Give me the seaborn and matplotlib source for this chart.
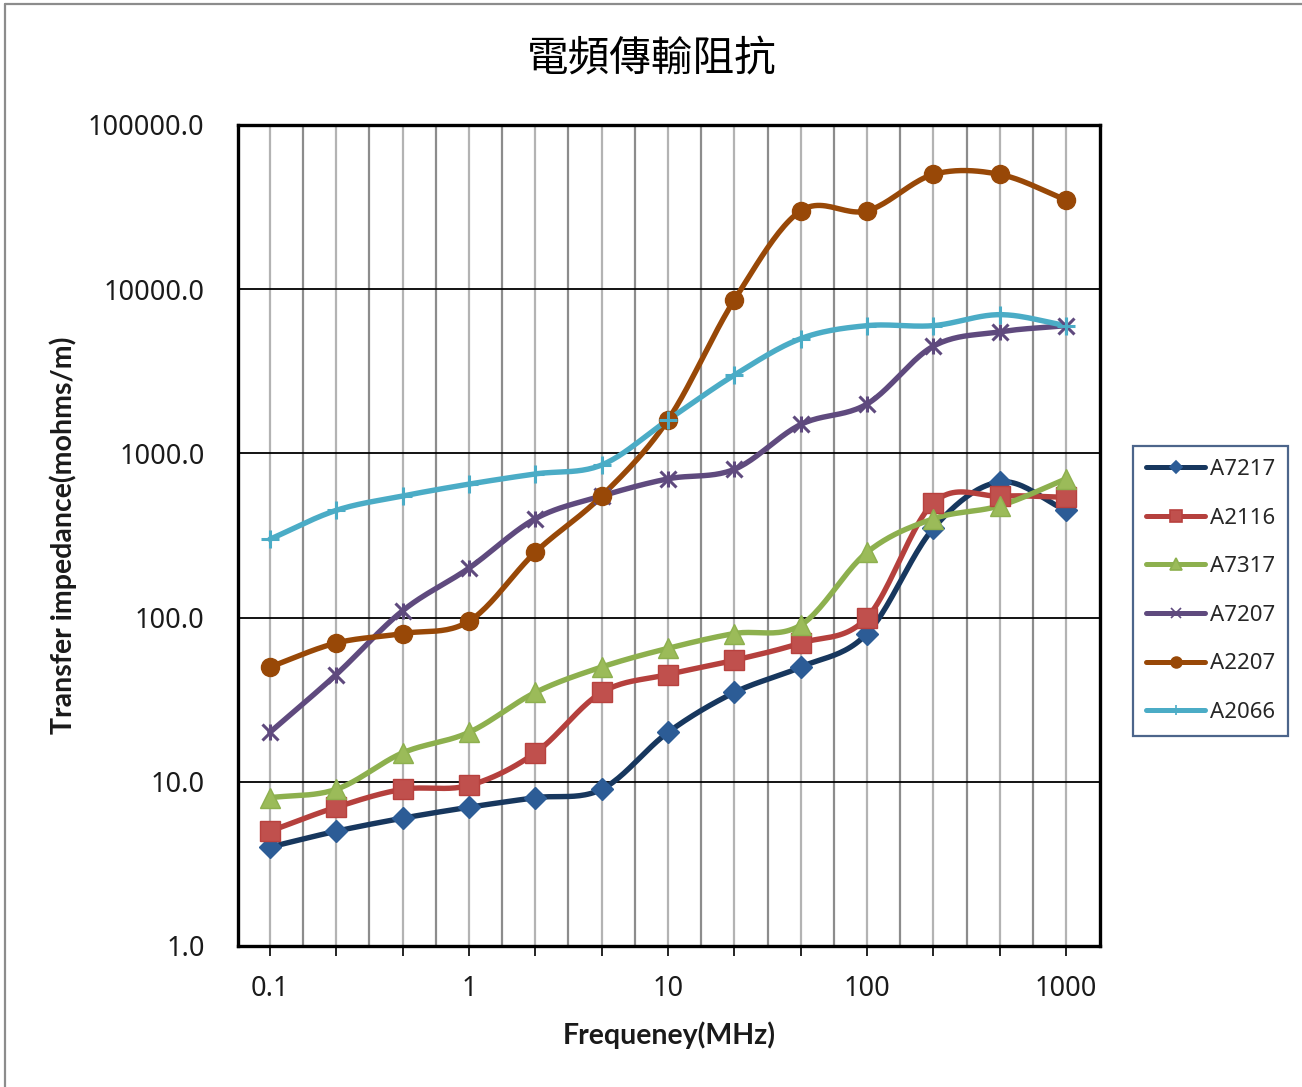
import numpy as np
import pandas as pd
import matplotlib
matplotlib.use("Agg")
import matplotlib.pyplot as plt
from matplotlib.lines import Line2D
import seaborn as sns

# Frequencies (MHz) measured, one category per point
freqs = ["0.1", "0.2", "0.5", "1", "2", "5", "10", "20", "50", "100", "200", "500", "1000"]
tick_labels = ["0.1", "", "", "1", "", "", "10", "", "", "100", "", "", "1000"]

# Transfer impedance (mohms/m) for each cable
a7217 = [4, 5, 6, 7, 8, 9, 20, 35, 50, 80, 350, 670, 450]
a2116 = [5, 7, 9, 9.5, 15, 35, 45, 55, 70, 100, 500, 550, 540]
a7317 = [8, 9, 15, 20, 35, 50, 65, 80, 90, 250, 400, 480, 700]
a7207 = [20, 45, 110, 200, 400, 550, 700, 800, 1500, 2000, 4500, 5500, 6000]
a2207 = [50, 70, 80, 95, 250, 550, 1600, 8600, 30000, 30000, 50000, 50000, 35000]
a2066 = [300, 450, 550, 650, 750, 850, 1600, 3000, 5000, 6000, 6000, 7000, 6000]

series_names = ["A7217", "A2116", "A7317", "A7207", "A2207", "A2066"]
series_values = [a7217, a2116, a7317, a7207, a2207, a2066]

y_ticks = [1, 10, 100, 1000, 10000, 100000]
y_tick_labels = ["1.0", "10.0", "100.0", "1000.0", "10000.0", "100000.0"]

# Line colour, marker face, marker edge, marker, marker size
styles = {
    "A7217": dict(line="#17375E", face="#2C5C96", edge="#2C5C96", marker="D", ms=11),
    "A2116": dict(line="#B5403D", face="#C0504D", edge="#B8413E", marker="s", ms=14),
    "A7317": dict(line="#8DB04E", face="#9BBB59", edge="#8DB04E", marker="^", ms=14),
    "A7207": dict(line="#5F4A7E", face="#5F4A7E", edge="#5F4A7E", marker="x", ms=11),
    "A2207": dict(line="#984807", face="#984807", edge="#984807", marker="o", ms=13),
    "A2066": dict(line="#4BACC6", face="#4BACC6", edge="#4BACC6", marker="+", ms=13),
}


def smooth_path(xs, ys, n=24):
    """Catmull-Rom path through the points (xs, ys)."""
    pts = np.column_stack([xs, ys]).astype(float)
    padded = np.vstack([2 * pts[0] - pts[1], pts, 2 * pts[-1] - pts[-2]])
    t = np.linspace(0, 1, n, endpoint=False)[:, None]
    segs = []
    for i in range(1, len(padded) - 2):
        p0, p1, p2, p3 = padded[i - 1:i + 3]
        segs.append(0.5 * (2 * p1 + (-p0 + p2) * t
                           + (2 * p0 - 5 * p1 + 4 * p2 - p3) * t ** 2
                           + (-p0 + 3 * p1 - 3 * p2 + p3) * t ** 3))
    segs.append(pts[-1:])
    return np.vstack(segs)


sns.set_theme(style="white")
plt.rcParams["font.family"] = ["Noto Sans", "DejaVu Sans"]

fig = plt.figure(figsize=(13.02, 10.87), dpi=100)
ax = fig.add_axes([238 / 1302, 1 - 946 / 1087, (1100 - 238) / 1302, (946 - 125) / 1087])

idx = np.arange(len(freqs))

# Vertical grid: light at each category, darker between categories
for i in idx:
    ax.axvline(i, color="#B3B3B3", lw=1.6, zorder=0.5)
for i in idx[:-1]:
    ax.axvline(i + 0.5, color="#8C8C8C", lw=1.6, zorder=0.5)

ax.set_yscale("log")
ax.set_ylim(1, 100000)
ax.set_xlim(-0.48, 12.51)
for v in y_ticks:
    ax.axhline(v, color="black", lw=1.3, zorder=0.6)

for name, vals in zip(series_names, series_values):
    st = styles[name]
    path = smooth_path(idx, np.log10(vals))
    df = pd.DataFrame({"x": path[:, 0], "y": 10 ** path[:, 1]})
    sns.lineplot(data=df, x="x", y="y", color=st["line"], lw=3.9, sort=False,
                 estimator=None, ax=ax, zorder=2, solid_capstyle="round")
    mew = 2.2 if st["marker"] in ("x", "+") else 1.0
    ax.plot(idx, vals, ls="none", marker=st["marker"], ms=st["ms"],
            mfc=st["face"], mec=st["edge"], mew=mew, zorder=3)
    if name == "A7207":
        ax.plot(idx, vals, ls="none", marker="|", ms=st["ms"] * 1.1,
                mec=st["edge"], mew=2.2, zorder=3)

ax.set_xticks(idx)
ax.set_xticklabels(tick_labels)
ax.set_yticks(y_ticks)
ax.set_yticklabels(y_tick_labels)
ax.yaxis.set_minor_locator(matplotlib.ticker.NullLocator())
ax.tick_params(axis="x", direction="out", length=7, width=1.2, color="black",
               pad=14, labelsize=19.5, bottom=True)
ax.tick_params(axis="y", length=0, pad=24, labelsize=19.5)
for lab in ax.get_xticklabels() + ax.get_yticklabels():
    lab.set_color("#1a1a1a")

for sp in ax.spines.values():
    sp.set_visible(True)
    sp.set_color("black")
    sp.set_linewidth(2.4)

label_font = dict(fontsize=20.5, fontweight="bold", family=["Lato", "DejaVu Sans"],
                  color="#1a1a1a")
ax.set_xlabel("Frequeney(MHz)", labelpad=13, **label_font)
ax.set_ylabel("Transfer impedance(mohms/m)", labelpad=8, **label_font)

fig.text(652 / 1302, 1 - 60 / 1087, "電頻傳輸阻抗", ha="center", va="center",
         fontsize=30, family=["Noto Sans CJK TC", "DejaVu Sans"], color="black")

handles = []
for name in series_names:
    st = styles[name]
    handles.append(Line2D([0], [0], color=st["line"], lw=3.6, marker=st["marker"],
                          ms=st["ms"] * 0.6, mfc=st["face"], mec=st["edge"],
                          mew=1.2))
leg = fig.legend(handles, series_names, loc="center left",
                 bbox_to_anchor=(1133 / 1302, 1 - 591 / 1087), fontsize=16,
                 frameon=True, fancybox=False, handlelength=2.65,
                 handletextpad=0.2, labelspacing=1.24, borderpad=0.6,
                 borderaxespad=0)
leg.get_frame().set_edgecolor("#1F3F6E")
leg.get_frame().set_linewidth(1.6)

# Outer chart frame
fig.add_artist(Line2D([5 / 1302, 5 / 1302], [0, 1 - 4 / 1087], color="#8C8C8C",
                      lw=1.6, transform=fig.transFigure))
fig.add_artist(Line2D([5 / 1302, 1], [1 - 4 / 1087, 1 - 4 / 1087], color="#8C8C8C",
                      lw=1.6, transform=fig.transFigure))

fig.savefig("out.png", dpi=100, facecolor="white")
